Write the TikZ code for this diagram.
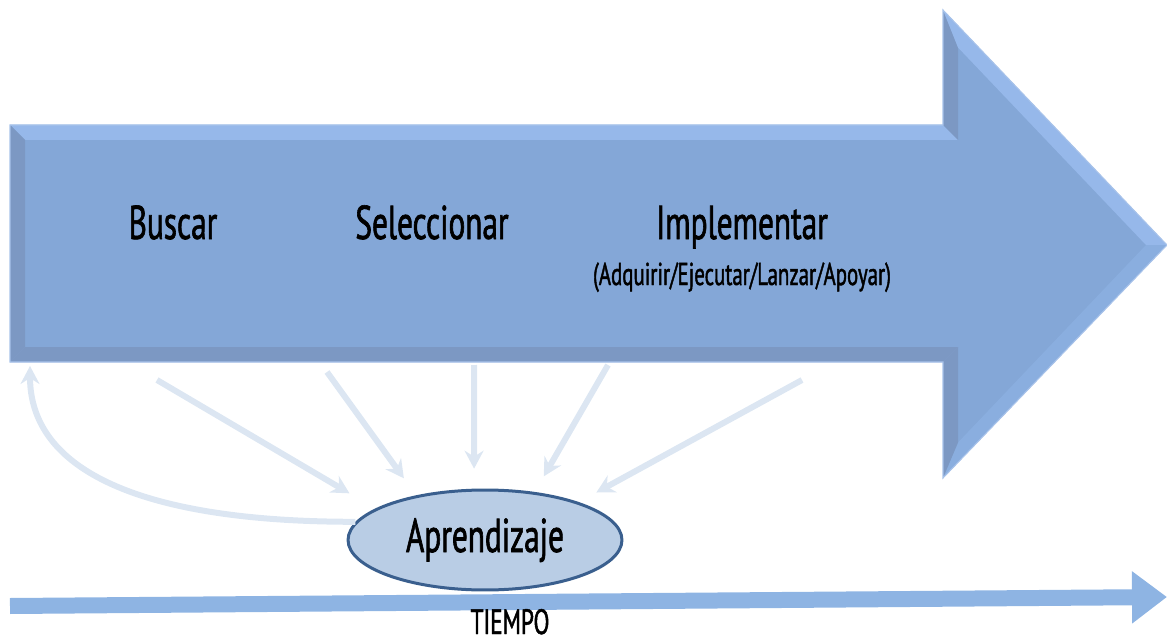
\documentclass[tikz,border=0pt]{standalone}
\usepackage{fontspec}
\setmainfont{PT Sans}[FakeStretch=0.66]
\newfontfamily\stepfont{PT Sans}[FakeStretch=0.66,FakeBold=1.3]
\usepackage{tikz}
\usetikzlibrary{arrows.meta,shapes.geometric}
\definecolor{arrowblue}{HTML}{84A7D7}
\definecolor{bevellight}{HTML}{96B8EA}
\definecolor{bevelmid}{HTML}{8AAEDF}
\definecolor{beveldark}{HTML}{7C98C3}
\definecolor{arrowrim}{HTML}{A8C3EA}
\definecolor{learnline}{HTML}{DCE6F2}
\definecolor{learnfill}{HTML}{B9CDE5}
\definecolor{learndraw}{HTML}{3A5F8E}
\definecolor{timeblue}{HTML}{8EB4E3}
\tikzset{
  step text/.style={font=\stepfont\fontsize{27}{32}\selectfont, anchor=base},
  learn arrow/.style={draw=learnline, line width=0.12cm, -{Stealth[length=0.36cm,width=0.38cm,inset=0.12cm]}},
}

\begin{document}
\begin{tikzpicture}[x=0.02cm,y=-0.02cm]
  \useasboundingbox (0,0) rectangle (1167,642);
  % big arrow with bevel
  \path (10,125) coordinate (a) (943,125) coordinate (b) (943,10) coordinate (c) (1167,245) coordinate (d)
        (943,478) coordinate (e) (943,362) coordinate (f) (10,362) coordinate (g);
  \path (25,140) coordinate (a1) (958,140) coordinate (b1) (958,47.5) coordinate (c1) (1146,245) coordinate (d1)
        (958,442.5) coordinate (e1) (958,347) coordinate (f1) (25,347) coordinate (g1);
  \fill[arrowblue] (a) -- (b) -- (c) -- (d) -- (e) -- (f) -- (g) -- cycle;
  \fill[bevellight] (a) -- (b) -- (b1) -- (a1) -- cycle;
  \fill[beveldark] (b) -- (c) -- (c1) -- (b1) -- cycle;
  \fill[bevellight] (c) -- (d) -- (d1) -- (c1) -- cycle;
  \fill[bevelmid] (d) -- (e) -- (e1) -- (d1) -- cycle;
  \fill[beveldark] (e) -- (f) -- (f1) -- (e1) -- cycle;
  \fill[beveldark] (f) -- (g) -- (g1) -- (f1) -- cycle;
  \fill[beveldark] (g) -- (a) -- (a1) -- (g1) -- cycle;
  \draw[arrowrim, line width=0.6pt] (a) -- (b) -- (c) -- (d) -- (e) -- (f) -- (g) -- cycle;

  \node[step text] (buscar) at (173,239) {Buscar};
  \node[step text] (seleccionar) at (432,239) {Seleccionar};
  \node[step text] (implementar) at (742,239) {Implementar};
  \node[font=\stepfont\fontsize{18}{21}\selectfont, anchor=base] (fases) at (742,285) {(Adquirir/Ejecutar/Lanzar/Apoyar)};

  \node[ellipse, draw=learndraw, fill=learnfill, line width=0.06cm, minimum width=5.48cm, minimum height=2cm,
        inner sep=0pt] (aprendizaje) at (485,540) {};
  \node[step text] (aprendizajetxt) at (485,552) {Aprendizaje};

  \coordinate (s1) at (30,366);
  \coordinate (s2) at (157,380);
  \coordinate (s3) at (327,372);
  \coordinate (s4) at (474,365);
  \coordinate (s5) at (608,365);
  \coordinate (s6) at (802,380);
  \draw[learn arrow] (aprendizaje.172) .. controls (140,522) and (30,470) .. (s1);
  \draw[learn arrow, shorten >=0.6cm] (s2) -- (aprendizaje.164);
  \draw[learn arrow, shorten >=0.42cm] (s3) -- (aprendizaje.147);
  \draw[learn arrow, shorten >=0.4cm] (s4) -- (aprendizaje.102);
  \draw[learn arrow, shorten >=0.36cm] (s5) -- (aprendizaje.44);
  \draw[learn arrow, shorten >=0.4cm] (s6) -- (aprendizaje.22);

  % time axis
  \coordinate (t0) at (10,606);
  \coordinate (t1) at (1167,597);
  \draw[timeblue, line width=0.32cm, -{Triangle[length=0.7cm,width=1cm]}] (t0) -- (t1);
  \node[font=\stepfont\fontsize{20}{23}\selectfont, anchor=base, inner sep=0pt] (tiempo) at (510,634) {TIEMPO};
\end{tikzpicture}
\end{document}
